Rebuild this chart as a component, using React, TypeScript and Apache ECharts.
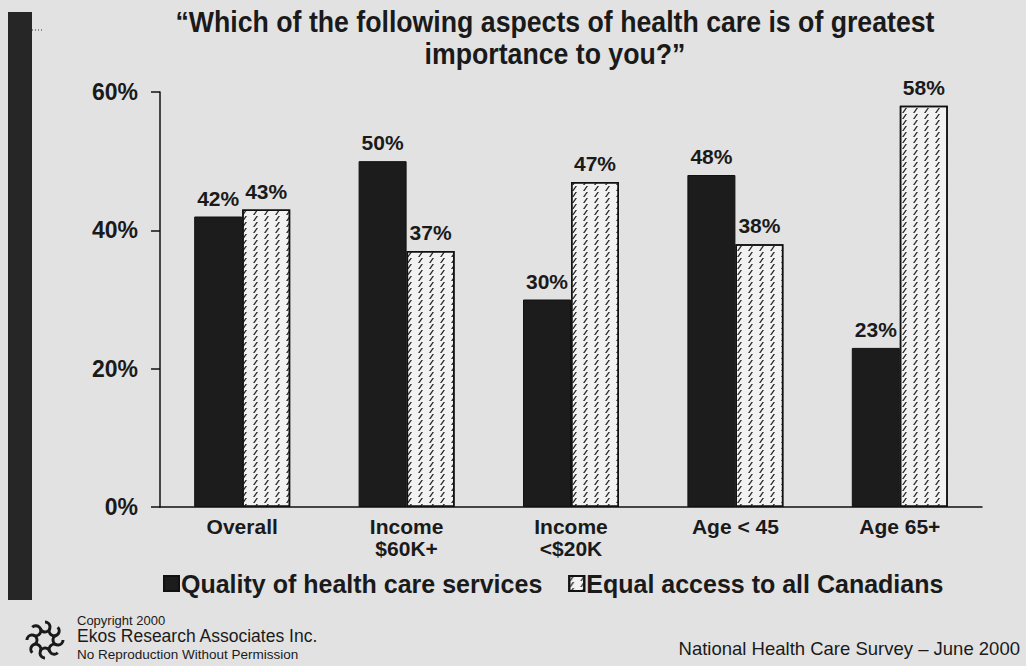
import React, { useEffect, useRef } from "react";
import * as echarts from "echarts";

const categories = ["Overall", "Income\n$60K+", "Income\n<$20K", "Age < 45", "Age 65+"];
const qualityValues = [42, 50, 30, 48, 23];
const accessValues = [43, 37, 47, 38, 58];
const seriesNames = ["Quality of health care services", "Equal access to all Canadians"];
const titleLines = ["\u201CWhich of the following aspects of health care is of greatest", "importance to you?\u201D"];

const FONT = "'Liberation Sans', Arial, sans-serif";

export default function App() {
  const ref = useRef<HTMLDivElement>(null);
  useEffect(() => {
    if (!ref.current) return;
    const chart = echarts.init(ref.current, null, { renderer: "svg" });
    const logoParts: any[] = [];
    for (let i = 0; i < 8; i++) {
      const a = (i / 8) * Math.PI * 2;
      logoParts.push({
        type: "arc",
        shape: { cx: 45 + 13 * Math.cos(a), cy: 640 + 13 * Math.sin(a), r: 5, startAngle: a, endAngle: a + Math.PI * 1.4 },
        style: { stroke: "#1a1a1a", lineWidth: 3, fill: "none" },
      });
    }
    const txt = (x: number, y: number, text: string, size: number, sx: number, weight = "normal", align = "left") => ({
      type: "text",
      x,
      y,
      scaleX: sx,
      style: { text, font: `${weight} ${size}px ${FONT}`, fill: "#1a1a1a", align, verticalAlign: "middle" },
    });
    chart.setOption({
      animation: false,
      backgroundColor: "#e2e2e2",
      textStyle: { fontFamily: FONT },
      grid: { left: 160, right: 44, top: 92, bottom: 159 },
      legend: {
        left: 158,
        top: 566,
        itemWidth: 15,
        itemHeight: 15,
        itemGap: 26,
        icon: "rect",
        textStyle: { fontFamily: FONT, fontSize: 25, fontWeight: "bold", color: "#1a1a1a", padding: [0, 0, 0, -3] },
        data: seriesNames,
      },
      xAxis: {
        type: "category",
        data: categories,
        axisLine: { lineStyle: { color: "#111", width: 1.5 } },
        axisTick: { show: false },
        axisLabel: { fontFamily: FONT, fontSize: 21, fontWeight: "bold", color: "#1a1a1a", margin: 8, lineHeight: 22 },
      },
      yAxis: {
        type: "value",
        min: 0,
        max: 60,
        interval: 20,
        axisLine: { show: true, lineStyle: { color: "#111", width: 1.5 } },
        axisTick: { show: true, inside: false, length: 9, lineStyle: { color: "#111", width: 1.5 } },
        splitLine: { show: false },
        axisLabel: { formatter: "{value}%", fontFamily: FONT, fontSize: 23, fontWeight: "bold", color: "#1a1a1a", margin: 22 },
      },
      series: [
        {
          name: seriesNames[0],
          type: "bar",
          data: qualityValues,
          barWidth: 48,
          barGap: "0%",
          itemStyle: { color: "#1c1c1c", borderColor: "#111", borderWidth: 1 },
          label: { show: true, position: "top", distance: 8, formatter: "{c}%", fontFamily: FONT, fontSize: 21, fontWeight: "bold", color: "#1a1a1a" },
        },
        {
          name: seriesNames[1],
          type: "bar",
          data: accessValues,
          barWidth: 48,
          itemStyle: {
            color: "#f2f2f2",
            borderColor: "#111",
            borderWidth: 1.5,
            decal: {
              symbol: "path://M0,5 L3,0 L4.4,0 L1.4,5 Z",
              symbolSize: 1,
              symbolKeepAspect: false,
              color: "#2a2a2a",
              dashArrayX: [5, 6],
              dashArrayY: [5, 0.5],
              rotation: 0,
            },
          },
          label: { show: true, position: "top", distance: 8, formatter: "{c}%", fontFamily: FONT, fontSize: 21, fontWeight: "bold", color: "#1a1a1a" },
        },
      ],
      graphic: [
        { type: "rect", shape: { x: 8, y: 12, width: 24, height: 588 }, style: { fill: "#262626" } },
        { type: "line", shape: { x1: 32, y1: 30, x2: 44, y2: 30 }, style: { stroke: "#333", lineWidth: 1, lineDash: [1, 2] } },
        txt(555, 21, titleLines[0], 30, 0.89, "bold", "center"),
        txt(555, 53, titleLines[1], 30, 0.89, "bold", "center"),
        ...logoParts,
        txt(77, 620, "Copyright 2000", 13, 1),
        txt(77, 636, "Ekos Research Associates Inc.", 17.5, 1),
        txt(77, 654, "No Reproduction Without Permission", 13.5, 1),
        txt(1020, 648, "National Health Care Survey \u2013 June 2000", 18.5, 1, "normal", "right"),
      ],
    });
    return () => chart.dispose();
  }, []);
  return <div ref={ref} style={{ position: "absolute", left: 0, top: 0, width: 1026, height: 666 }} />;
}
